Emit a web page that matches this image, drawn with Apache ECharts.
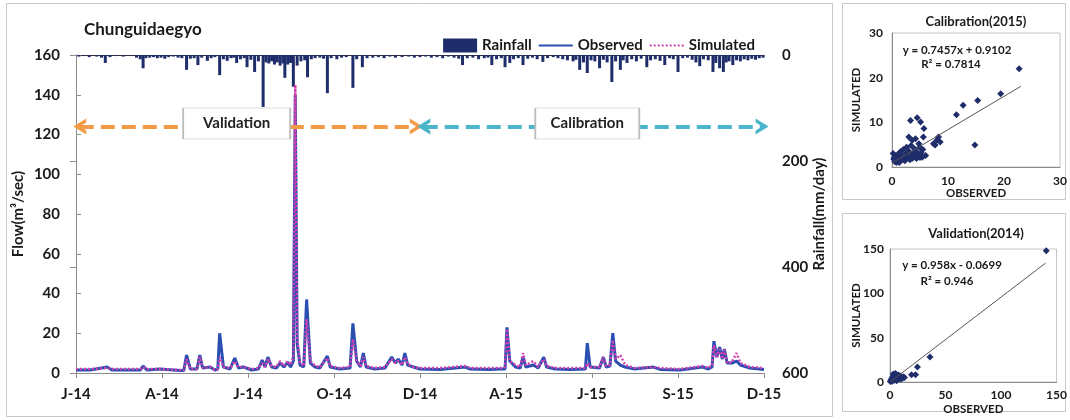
<!DOCTYPE html>
<html><head><meta charset="utf-8">
<script src="https://cdn.jsdelivr.net/npm/echarts@6/dist/echarts.min.js"></script>
<style>html,body{margin:0;padding:0;background:#fff}#c{width:1070px;height:420px}</style>
</head><body><div id="c"></div>
<script>
// ---- data (day index from 2014-01-01) ----
const xTickLabels = ['J-14','A-14','J-14','O-14','D-14','A-15','J-15','S-15','D-15'];
const observed = [[0,1.5],[15,1.5],[33,3],[38,1.5],[68,1.5],[71,3.5],[75,1.5],[89,2],[110,1.2],[114,1.2],[117,9],[121,2],[128,2],[131,9],[134,2.5],[142,3],[147,1.5],[150,2],[152,20],[156,3],[163,2],[168,7.5],[172,2.5],[177,3],[186,1.5],[193,2],[197,6.5],[200,3],[203,8],[207,3],[212,2.5],[216,5],[220,3],[224,5.5],[227,3],[230,6],[232,140],[234,15],[237,4],[241,3],[244,37],[248,5],[253,3],[258,2.5],[266,8.5],[269,3],[279,2],[290,2.5],[293,25],[297,6],[301,3],[304,10],[307,3],[316,2],[327,2.5],[334,8],[338,5],[341,7],[345,4],[348,10],[351,4],[357,3],[364,2],[385,1.8],[412,3],[417,2],[438,1.8],[449,2],[454,2],[456,23],[459,6],[465,3],[470,2.5],[473,8],[476,3],[484,4],[489,2.5],[495,8],[498,3],[507,2],[523,1.8],[539,2],[541,15],[544,3],[554,2.5],[558,8],[561,3],[565,3.5],[568,20],[571,6],[576,4],[581,3],[591,2],[611,3],[618,1.8],[639,1.5],[663,3],[669,2],[673,3],[675,16],[678,8],[681,13],[684,7],[686,12],[689,5],[694,5],[699,6],[703,4],[713,2.5],[728,1.8]];
const simulated = [[0,2],[15,2],[33,2.5],[38,2],[68,2],[71,3],[75,2],[89,2],[110,1.5],[114,1.5],[117,7],[121,2],[128,2],[131,8],[134,2.5],[142,3],[147,1.5],[150,2],[152,8],[156,3],[163,2.5],[168,6],[172,3],[177,3],[186,2],[193,2.5],[197,5],[200,3],[203,7],[207,3.5],[212,3],[216,6],[220,3.5],[224,6],[227,4],[230,8],[232,145],[234,18],[237,5],[241,3.5],[244,27],[248,6],[253,3.5],[258,3],[266,7.5],[269,3.5],[279,2.5],[290,3],[293,17],[297,6],[301,3.5],[304,8],[307,3.5],[316,2.5],[327,3],[334,7],[338,5],[341,6],[345,4],[348,8],[351,4.5],[357,3],[364,2.5],[385,2.5],[412,3.5],[417,2.5],[438,2.5],[449,2.5],[454,3],[456,22],[459,6],[465,4],[470,3],[473,10],[476,4],[484,6],[489,3],[495,7],[498,3.5],[507,2.5],[523,2.5],[539,2.5],[541,5],[544,3],[554,3],[558,8],[561,3.5],[565,4],[568,16.5],[571,7],[576,9],[581,4],[591,2.5],[611,3],[618,2.5],[639,2],[663,3.5],[669,2.5],[673,4],[675,14],[678,8],[681,12],[684,7],[686,11.7],[689,5],[694,5.5],[699,10],[703,5],[713,3],[728,2.5]];
const rainfall = [[3,3],[8,2],[14,4],[22,3],[27,5],[31,15],[36,4],[42,2],[50,3],[58,2],[64,5],[68,8],[71,25],[74,6],[78,5],[82,4],[86,6],[90,5],[94,7],[98,4],[103,3],[108,5],[112,6],[117,28],[121,7],[125,6],[129,19],[133,5],[139,11],[143,6],[147,4],[152,38],[156,8],[160,11],[164,6],[167,5],[170,15],[174,8],[178,6],[181,23],[185,9],[189,32],[193,12],[198,98],[201,14],[204,16],[207,12],[210,18],[213,14],[216,20],[219,16],[221,43],[224,18],[227,15],[230,60],[234,20],[238,12],[242,10],[245,42],[249,8],[253,6],[258,5],[262,7],[266,72],[270,6],[276,8],[281,5],[286,4],[293,62],[297,8],[303,23],[308,6],[314,5],[320,4],[326,6],[332,3],[338,5],[345,4],[352,3],[358,5],[364,4],[370,3],[376,5],[382,4],[388,6],[394,3],[400,5],[405,7],[409,19],[414,6],[420,5],[426,8],[432,6],[436,5],[440,19],[445,8],[450,6],[454,23],[459,15],[463,8],[468,6],[473,19],[478,7],[483,5],[488,8],[494,13],[499,6],[505,4],[510,6],[515,8],[520,10],[526,12],[529,9],[533,28],[537,14],[541,34],[545,10],[549,12],[554,25],[558,9],[562,14],[567,51],[571,12],[576,28],[579,10],[583,15],[588,8],[593,12],[598,7],[604,23],[608,10],[613,8],[618,11],[623,19],[628,6],[632,8],[637,32],[642,6],[647,5],[652,9],[656,14],[660,21],[664,8],[669,10],[674,32],[677,15],[681,25],[685,32],[688,14],[691,12],[695,19],[699,10],[703,12],[707,8],[711,10],[715,7],[719,9],[723,6],[727,5]];
const calPoints = [[22.7,22.0],[19.4,16.4],[15.3,14.9],[12.7,13.8],[11.5,11.7],[14.8,4.9],[3.3,10.4],[4.5,11.0],[5.1,10.1],[5.7,8.6],[8.3,6.7],[7.4,5.2],[8.6,5.6],[8.0,6.0],[7.7,4.9],[5.6,6.7],[3.0,6.7],[3.6,6.0],[4.2,6.3],[4.8,5.2],[6.0,2.6],[5.4,2.2],[0.2,3.0],[0.3,1.8],[0.5,1.2],[0.6,2.5],[0.8,1.0],[1.0,1.6],[1.0,2.8],[1.2,2.1],[1.4,1.3],[1.5,3.4],[1.7,2.6],[1.9,1.7],[2.0,3.9],[2.2,2.2],[2.3,1.4],[2.5,3.0],[2.6,4.4],[2.8,2.0],[3.0,3.5],[3.2,1.6],[3.4,4.8],[3.5,2.6],[3.8,3.0],[4.0,4.1],[4.1,2.2],[4.3,3.5],[4.6,2.6],[4.9,4.4],[5.2,3.2],[5.5,3.9],[1.3,1.0],[0.4,2.2],[2.7,2.5],[3.6,1.9],[4.4,1.9],[5.0,2.1]];
const valPoints = [[140.7,148],[36,28.3],[24.7,17],[23,8.3],[19.4,8.3],[0.3,0.5],[0.8,2],[1.2,1],[1.5,4],[2,2.5],[2.5,6],[3,3],[3.5,7.5],[4,2],[4.5,8.5],[5,4],[5.5,6],[6,3],[6.5,7],[7,5],[7.5,8],[8,4],[8.5,6],[9,7],[9.5,3.5],[10,6],[10.5,5],[11,4],[12,6],[13,5],[3,9],[5,9.5],[6,1.5],[2,0.8]];
const calTrend = [[0.2,1.06],[23,18.06]];
const valTrend = [[0.5,0.41],[140,134.05]];

const FONT = 'Lato';
const NAVY = '#1f2e6b';
const OBS = '#2a4fb3';
const SIM = '#d23fae';
const chev = 'path://M0,12 L10,0 L20,12 L15,12 L10,6 L5,12 Z';

const chart = echarts.init(document.getElementById('c'), null, {renderer:'canvas'});
const lbl = (sz) => ({fontFamily:FONT, fontWeight:'bold', fontSize:sz, color:'#1a1a1a'});

chart.setOption({
  animation:false,
  textStyle:{fontFamily:FONT},
  title:[
    {text:'Chunguidaegyo', left:79, top:16, textStyle:{...lbl(17)}},
    {text:'Calibration(2015)', left:971, textAlign:'center', top:10, textStyle:{...lbl(13)}},
    {text:'Validation(2014)', left:971, textAlign:'center', top:222, textStyle:{...lbl(13)}}
  ],
  legend:{
    right:310, top:33, itemWidth:34, itemHeight:14, itemGap:6,
    textStyle:{...lbl(15)},
    data:[{name:'Rainfall', icon:'rect'},
          {name:'Observed', itemStyle:{opacity:0}},
          {name:'Simulated', itemStyle:{opacity:0}}]
  },
  graphic:[
    {type:'rect', shape:{x:6.5,y:3.5,width:826,height:413}, style:{fill:'none', stroke:'#c8c8c8', lineWidth:1}, z:-10},
    {type:'rect', shape:{x:842.5,y:3.5,width:223,height:196}, style:{fill:'none', stroke:'#c8c8c8', lineWidth:1}, z:-10},
    {type:'rect', shape:{x:842.5,y:213.5,width:223,height:198}, style:{fill:'none', stroke:'#c8c8c8', lineWidth:1}, z:-10},
    {type:'text', x:957, y:50, style:{text:'y = 0.7457x + 0.9102', fontFamily:FONT, fontWeight:'bold', fontSize:11.5, fill:'#1a1a1a', align:'center', verticalAlign:'middle'}},
    {type:'text', x:951, y:64, style:{text:'R² = 0.7814', fontFamily:FONT, fontWeight:'bold', fontSize:11.5, fill:'#1a1a1a', align:'center', verticalAlign:'middle'}},
    {type:'text', x:952, y:265, style:{text:'y = 0.958x - 0.0699', fontFamily:FONT, fontWeight:'bold', fontSize:11.5, fill:'#1a1a1a', align:'center', verticalAlign:'middle'}},
    {type:'text', x:947, y:281, style:{text:'R² = 0.946', fontFamily:FONT, fontWeight:'bold', fontSize:11.5, fill:'#1a1a1a', align:'center', verticalAlign:'middle'}}
  ],
  grid:[
    {left:76, width:688, top:55, height:318},
    {left:892, width:171, top:33, height:134, show:true, borderColor:'#c4c4c4'},
    {left:890, width:173, top:249, height:133, show:true, borderColor:'#c4c4c4'}
  ],
  xAxis:[
    {gridIndex:0, type:'value', min:0, max:728, interval:91,
     axisLine:{lineStyle:{color:'#8c8c8c'}}, axisTick:{length:5, lineStyle:{color:'#8c8c8c'}},
     splitLine:{show:false},
     axisLabel:{...lbl(15), margin:14, formatter:(v)=>xTickLabels[Math.round(v/91)]}},
    {gridIndex:0, type:'value', position:'top', min:0, max:728,
     axisLine:{onZero:false, lineStyle:{color:'#333'}}, axisTick:{show:false}, axisLabel:{show:false}, splitLine:{show:false}},
    {gridIndex:1, type:'value', min:0, max:30, interval:10, name:'OBSERVED', nameLocation:'middle', nameGap:20, nameMoveOverlap:false,
     nameTextStyle:{...lbl(11.5), verticalAlign:'top'},
     axisLine:{lineStyle:{color:'#8c8c8c'}}, axisTick:{show:false}, splitLine:{show:false},
     axisLabel:{...lbl(12), margin:8}},
    {gridIndex:2, type:'value', min:0, max:150, interval:50, name:'OBSERVED', nameLocation:'middle', nameGap:21, nameMoveOverlap:false,
     nameTextStyle:{...lbl(11.5), verticalAlign:'top'},
     axisLine:{lineStyle:{color:'#8c8c8c'}}, axisTick:{show:false}, splitLine:{show:false},
     axisLabel:{...lbl(12), margin:7}}
  ],
  yAxis:[
    {gridIndex:0, type:'value', min:0, max:160, interval:20, name:'Flow(m³/sec)', nameLocation:'middle', nameGap:50, nameRotate:90, nameMoveOverlap:false,
     nameTextStyle:{...lbl(15)},
     axisLine:{show:true, lineStyle:{color:'#8c8c8c'}}, axisTick:{show:true, inside:true, length:5, lineStyle:{color:'#8c8c8c'}},
     splitLine:{show:false}, axisLabel:{...lbl(15), margin:16}},
    {gridIndex:0, type:'value', position:'right', inverse:true, min:0, max:600, interval:200,
     name:'Rainfall(mm/day)', nameLocation:'middle', nameGap:48, nameRotate:90, nameMoveOverlap:false,
     nameTextStyle:{...lbl(15)},
     axisLine:{show:true, lineStyle:{color:'#8c8c8c'}}, axisTick:{show:true, inside:true, length:6, lineStyle:{color:'#8c8c8c'}},
     splitLine:{show:false}, axisLabel:{...lbl(15), margin:18}},
    {gridIndex:1, type:'value', min:0, max:30, interval:10, name:'SIMULATED', nameLocation:'middle', nameGap:30, nameRotate:90, nameMoveOverlap:false,
     nameTextStyle:{...lbl(11.5)},
     axisLine:{show:true, lineStyle:{color:'#8c8c8c'}}, axisTick:{show:false}, splitLine:{show:false},
     axisLabel:{...lbl(12), margin:9}},
    {gridIndex:2, type:'value', min:0, max:150, interval:50, name:'SIMULATED', nameLocation:'middle', nameGap:28, nameRotate:90, nameMoveOverlap:false,
     nameTextStyle:{...lbl(11.5)},
     axisLine:{show:true, lineStyle:{color:'#8c8c8c'}}, axisTick:{show:false}, splitLine:{show:false},
     axisLabel:{...lbl(12), margin:6}}
  ],
  series:[
    {name:'Rainfall', type:'bar', xAxisIndex:0, yAxisIndex:1, data:rainfall, barWidth:3,
     itemStyle:{color:NAVY}, z:2},
    {name:'Observed', type:'line', xAxisIndex:0, yAxisIndex:0, data:observed, showSymbol:false, symbol:'none',
     lineStyle:{color:OBS, width:3}, itemStyle:{color:OBS}, z:3,
     markLine:{silent:true, symbol:[chev,chev], symbolSize:[16,13], label:{show:false},
       data:[
         [{coord:[4,124], lineStyle:{color:'#f39a46', width:4, type:[14,7]}},{coord:[360,124]}],
         [{coord:[368,124], lineStyle:{color:'#4bb6cb', width:4, type:[14,7]}},{coord:[726,124]}]
       ]},
     markPoint:{silent:true, symbol:'rect', symbolSize:[107,31],
       itemStyle:{color:'#fff', borderColor:'#bdbdbd', borderWidth:1},
       label:{show:true, ...lbl(15), color:'#222'},
       data:[
         {coord:[170,125.5], value:'Validation', label:{formatter:'Validation'}},
         {coord:[541,125.5], value:'Calibration', symbolSize:[104,31], label:{formatter:'Calibration'}}
       ]}},
    {name:'Simulated', type:'line', xAxisIndex:0, yAxisIndex:0, data:simulated, showSymbol:false, symbol:'none',
     lineStyle:{color:SIM, width:2.5, type:[2,2]}, itemStyle:{color:SIM}, z:4},
    {type:'scatter', xAxisIndex:2, yAxisIndex:2, data:calPoints, symbol:'diamond', symbolSize:7, itemStyle:{color:NAVY, opacity:1}},
    {type:'line', xAxisIndex:2, yAxisIndex:2, data:calTrend, symbol:'none', lineStyle:{color:'#555', width:1}},
    {type:'scatter', xAxisIndex:3, yAxisIndex:3, data:valPoints, symbol:'diamond', symbolSize:7, itemStyle:{color:NAVY, opacity:1}},
    {type:'line', xAxisIndex:3, yAxisIndex:3, data:valTrend, symbol:'none', lineStyle:{color:'#555', width:1}}
  ]
});
</script></body></html>
